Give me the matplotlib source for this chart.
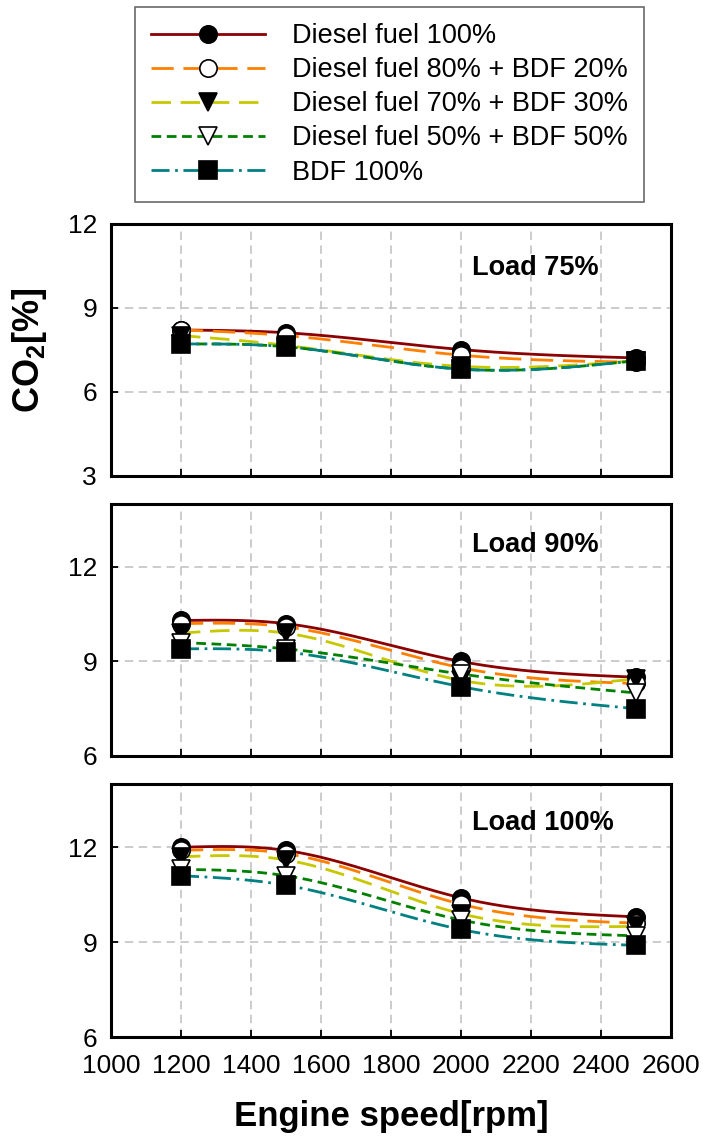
import numpy as np
import matplotlib
matplotlib.use("Agg")
import matplotlib.pyplot as plt
from matplotlib.lines import Line2D

plt.rcParams['font.family'] = ['Liberation Sans', 'DejaVu Sans']
plt.rcParams['mathtext.fontset'] = 'custom'
plt.rcParams['mathtext.rm'] = 'Liberation Sans'
plt.rcParams['mathtext.bf'] = 'Liberation Sans:bold'
plt.rcParams['lines.scale_dashes'] = False

# engine speeds [rpm]
speeds = [1200, 1500, 2000, 2500]

fuel_labels = ['Diesel fuel 100%', 'Diesel fuel 80% + BDF 20%',
               'Diesel fuel 70% + BDF 30%', 'Diesel fuel 50% + BDF 50%',
               'BDF 100%']

# CO2 [%] per load, one list per fuel (same order as fuel_labels)
co2_load75 = [
    [8.2, 8.1, 7.5, 7.2],
    [8.2, 8.0, 7.3, 7.05],
    [8.0, 7.65, 6.9, 7.1],
    [7.7, 7.6, 6.8, 7.1],
    [7.7, 7.6, 6.8, 7.1],
]
co2_load90 = [
    [10.3, 10.2, 9.0, 8.5],
    [10.2, 10.1, 8.8, 8.3],
    [9.9, 9.9, 8.4, 8.45],
    [9.6, 9.4, 8.6, 8.0],
    [9.4, 9.3, 8.2, 7.5],
]
co2_load100 = [
    [12.0, 11.9, 10.4, 9.8],
    [11.9, 11.8, 10.2, 9.6],
    [11.7, 11.6, 9.9, 9.5],
    [11.3, 11.1, 9.7, 9.2],
    [11.1, 10.8, 9.4, 8.9],
]

line_colors = ['#8b0000', '#ff8000', '#c8c800', '#008000', '#008080']
line_styles = ['-', (0, (16, 7)), (0, (14, 7)), (0, (7, 4)), (0, (13, 4, 2, 4))]
markers = ['o', 'o', 'v', 'v', 's']
marker_faces = ['black', 'white', 'black', 'white', 'black']


def natural_spline(x, y, xs):
    x = np.asarray(x, float)
    y = np.asarray(y, float)
    n = len(x)
    h = np.diff(x)
    A = np.zeros((n, n))
    r = np.zeros(n)
    A[0, 0] = 1
    A[-1, -1] = 1
    for i in range(1, n - 1):
        A[i, i - 1] = h[i - 1]
        A[i, i] = 2 * (h[i - 1] + h[i])
        A[i, i + 1] = h[i]
        r[i] = 3 * ((y[i + 1] - y[i]) / h[i] - (y[i] - y[i - 1]) / h[i - 1])
    c = np.linalg.solve(A, r)
    ys = np.empty_like(xs)
    for k, xv in enumerate(xs):
        i = min(np.searchsorted(x, xv, side='right') - 1, n - 2)
        i = max(i, 0)
        b = (y[i + 1] - y[i]) / h[i] - h[i] * (2 * c[i] + c[i + 1]) / 3
        d = (c[i + 1] - c[i]) / (3 * h[i])
        t = xv - x[i]
        ys[k] = y[i] + b * t + c[i] * t ** 2 + d * t ** 3
    return ys


fig = plt.figure(figsize=(7.06, 11.44), dpi=100)

panels = [
    (co2_load75, 'Load 75%', (3, 12), [3, 6, 9, 12], [0.5843, 0.2203], 0.825),
    (co2_load90, 'Load 90%', (6, 14), [6, 9, 12], [0.3392, 0.2203], 0.837),
    (co2_load100, 'Load 100%', (6, 14), [6, 9, 12], [0.0935, 0.2212], 0.846),
]

xs = np.linspace(speeds[0], speeds[-1], 200)
for idx, (data, title, ylim, yticks, (bottom, height), ty) in enumerate(panels):
    ax = fig.add_axes([0.1572, bottom, 0.7932, height])
    ax.set_xlim(1000, 2600)
    ax.set_ylim(*ylim)
    ax.set_xticks(range(1000, 2601, 200))
    ax.set_yticks(yticks)
    ax.grid(True, color='#c4c4c4', linestyle=(0, (6, 4)), linewidth=1.2)
    ax.set_axisbelow(True)
    for sp in ax.spines.values():
        sp.set_linewidth(2.2)
    ax.tick_params(direction='in', length=5, width=1.3, labelsize=19, pad=10)
    ax.tick_params(axis='x', pad=12)
    if idx < 2:
        ax.tick_params(axis='x', labelbottom=False)

    for vals, col, ls in zip(data, line_colors, line_styles):
        ax.plot(xs, natural_spline(speeds, vals, xs), color=col,
                linestyle=ls, linewidth=2.0, zorder=2)
    for vals, mk, fc in zip(data, markers, marker_faces):
        ax.plot(speeds, vals, linestyle='none', marker=mk, markersize=12.5,
                markerfacecolor=fc, markeredgecolor='black',
                markeredgewidth=1.2, zorder=3)

    ax.text(0.645, ty, title, transform=ax.transAxes, fontsize=19.5,
            fontweight='bold', va='center', ha='left')

fig.text(0.042, 0.694, r'CO$_\mathbf{2}$[%]', rotation=90, fontsize=26,
         fontweight='bold', ha='center', va='center')
fig.text(0.554, 0.024, 'Engine speed[rpm]', fontsize=25, fontweight='bold',
         ha='center', va='center')

handles = [Line2D([0], [0], color=col, linestyle=ls, linewidth=2.0,
                  marker=mk, markersize=12.5, markerfacecolor=fc,
                  markeredgecolor='black', markeredgewidth=1.2)
           for col, ls, mk, fc in zip(line_colors, line_styles, markers, marker_faces)]
leg = fig.legend(handles, fuel_labels, loc='upper left',
                 bbox_to_anchor=(0.191, 0.994), bbox_transform=fig.transFigure,
                 fontsize=19.5, handlelength=4.2, handletextpad=1.0,
                 labelspacing=0.3, borderpad=0.6, borderaxespad=0,
                 frameon=True, fancybox=False, markerscale=1.0)
leg.get_frame().set_edgecolor('#444444')
leg.get_frame().set_linewidth(1.2)

fig.savefig('out.png', dpi=100)
